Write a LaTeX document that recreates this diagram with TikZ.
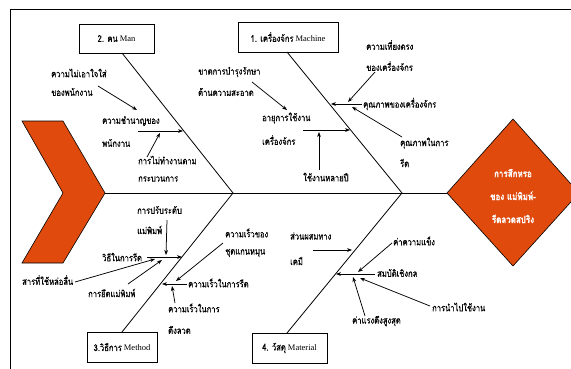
\documentclass[tikz,border=0pt]{standalone}
\usepackage{fontspec}
\setmainfont{Liberation Serif}
\newfontfamily\thai[Script=Thai, FakeStretch=0.8, FakeBold=0.6]{Loma}
\usetikzlibrary{arrows.meta}
\definecolor{fishorange}{RGB}{224,74,12}
\tikzset{
  lbl/.style={anchor=west, inner sep=0pt, font=\thai\fontsize{9.5}{11}\selectfont},
  arr/.style={-{Stealth[length=5pt,width=3.8pt]}, line width=0.75pt},
  bone/.style={line width=0.8pt},
  catbox/.style={draw, line width=0.8pt, inner sep=0pt, font=\fontsize{8.5}{9}\selectfont},
  headtxt/.style={inner sep=0pt, align=center, text=white, font=\thai\bfseries\fontsize{10}{23}\selectfont}
}
\begin{document}
\begin{tikzpicture}[x=1pt,y=-1pt]
\useasboundingbox (0,0) rectangle (571,368);
\fill[white] (0,0) rectangle (571,368);
% frame
\draw[line width=1pt] (10,400) -- (10,9) -- (600,9);
% chevron (tail)
\draw[fill=fishorange, line width=0.6pt] (22,121) -- (63,121) -- (105,193) -- (63,263) -- (22,263) -- (63,193) -- cycle;
\coordinate (tail) at (105,193);
% head diamond
\draw[fill=fishorange, line width=0.6pt] (447,193) -- (513,119) -- (579,193) -- (513,266) -- cycle;
\coordinate (headW) at (447,193);
\node[headtxt] (head) at (513,196) {การสึกหรอ\\ของ แม่พิมพ์-\\รีดลวดสปริง};
% spine
\draw[bone] (tail) -- (headW);
\coordinate (j1) at (233,193);
\coordinate (j2) at (402,193);
% category boxes
\node[catbox, minimum width=75pt, minimum height=29pt] (man) at (116.5,38.5) {{\thai\fontsize{9.5}{11}\selectfont 2. คน} Man};
\node[catbox, minimum width=100pt, minimum height=30pt] (mach) at (288,37) {{\thai\fontsize{9.5}{11}\selectfont 1. เครื่องจักร} Machine};
\node[catbox, minimum width=70pt, minimum height=30pt] (meth) at (122,347) {{\thai\fontsize{9.5}{11}\selectfont 3.วิธีการ} Method};
\node[catbox, minimum width=75pt, minimum height=30pt] (mat) at (289.5,348) {{\thai\fontsize{9.5}{11}\selectfont 4. วัสดุ} Material};
\coordinate (manB) at (122,53);
\coordinate (machB) at (287,52);
\coordinate (methB) at (122,332);
\coordinate (matB) at (287,333);
\draw[bone] (manB) -- (j1) -- (methB);
\draw[bone] (machB) -- (j2) -- (matB);

% ---------- Man ----------
\node[lbl] (t1a) at (51,73) {ความไม่เอาใจใส่};
\node[lbl] (t1b) at (51,92) {ของพนักงาน};
\node[lbl] (t2a) at (102,121) {ความชำนาญของ};
\node[lbl] (t2b) at (102,143) {พนักงาน};
\node[lbl] (t3a) at (138,160) {การไม่ทำงานตาม};
\node[lbl] (t3b) at (138,179) {กระบวนการ};
\coordinate (a1s) at (98,86);   \coordinate (a1e) at (137,110);
\coordinate (a2s) at (138,131); \coordinate (a2e) at (183,131);
\coordinate (a3s) at (147,157); \coordinate (a3e) at (160,133);
\draw[arr] (a1s) -- (a1e);
\draw[arr] (a2s) -- (a2e);
\draw[arr] (a3s) -- (a3e);

% ---------- Machine ----------
\node[lbl] (m1a) at (198,72) {ขาดการบำรุงรักษา};
\node[lbl] (m1b) at (198,92) {ด้านความสะอาด};
\node[lbl] (m2a) at (262,118) {อายุการใช้งาน};
\node[lbl] (m2b) at (262,140) {เครื่องจักร};
\node[lbl] (m3) at (303,177) {ใช้งานหลายปี};
\node[lbl] (m4a) at (366,45) {ความเที่ยงตรง};
\node[lbl] (m4b) at (366,66) {ของเครื่องจักร};
\node[lbl] (m5) at (363,104) {คุณภาพของเครื่องจักร};
\node[lbl] (m6a) at (400,143) {คุณภาพในการ};
\node[lbl] (m6b) at (400,163) {รีด};
\coordinate (b1s) at (252,82);  \coordinate (b1e) at (287,110);
\coordinate (b2s) at (303,130); \coordinate (b2e) at (350,130);
\coordinate (b3s) at (319,170); \coordinate (b3e) at (319,132);
\coordinate (b4s) at (375,72);  \coordinate (b4e) at (348,102);
\coordinate (b5s) at (362,104); \coordinate (b5e) at (331,104);
\coordinate (b6s) at (402,137); \coordinate (b6e) at (352,107);
\draw[arr] (b1s) -- (b1e);
\draw[arr] (b2s) -- (b2e);
\draw[arr] (b3s) -- (b3e);
\draw[arr] (b4s) -- (b4e);
\draw[arr] (b5s) -- (b5e);
\draw[arr] (b6s) -- (b6e);

% ---------- Method ----------
\node[lbl] (d1a) at (137,210) {การปรับระดับ};
\node[lbl] (d1b) at (137,230) {แม่พิมพ์};
\node[lbl] (d2) at (102,257) {วิธีในการรีด};
\node[lbl] (d3) at (22,280) {สารที่ใช้หล่อลื่น};
\node[lbl] (d4) at (88,293) {การยึดแม่พิมพ์};
\node[lbl] (d5a) at (225,233) {ความเร็วของ};
\node[lbl] (d5b) at (225,253) {ชุดแกนหมุน};
\node[lbl] (d6) at (188,283) {ความเร็วในการรีด};
\node[lbl] (d7a) at (168,308) {ความเร็วในการ};
\node[lbl] (d7b) at (168,330) {ดึงลวด};
\coordinate (c1s) at (167,220); \coordinate (c1e) at (166,255);
\coordinate (c2s) at (147,257); \coordinate (c2e) at (182,257);
\coordinate (c3s) at (75,282);  \coordinate (c3e) at (155,259);
\coordinate (c4s) at (128,284); \coordinate (c4e) at (162,260);
\coordinate (c5s) at (223,243); \coordinate (c5e) at (176,281);
\coordinate (c6s) at (187,284); \coordinate (c6e) at (162,284);
\coordinate (c7s) at (175,303); \coordinate (c7e) at (172,286);
\draw[arr] (c1s) -- (c1e);
\draw[arr] (c2s) -- (c2e);
\draw[arr] (c3s) -- (c3e);
\draw[arr] (c4s) -- (c4e);
\draw[arr] (c5s) -- (c5e);
\draw[arr] (c6s) -- (c6e);
\draw[arr] (c7s) -- (c7e);

% ---------- Material ----------
\node[lbl] (r1a) at (290,236) {ส่วนผสมทาง};
\node[lbl] (r1b) at (290,261) {เคมี};
\node[lbl] (r2) at (393,241) {ค่าความแข็ง};
\node[lbl] (r3) at (377,273) {สมบัติเชิงกล};
\node[lbl] (r4) at (432,307) {การนำไปใช้งาน};
\node[lbl] (r5) at (352,321) {ค่าแรงดึงสูงสุด};
\coordinate (e1s) at (313,250); \coordinate (e1e) at (352,250);
\coordinate (e2s) at (392,243); \coordinate (e2e) at (358,272);
\coordinate (e3s) at (375,274); \coordinate (e3e) at (336,274);
\coordinate (e4s) at (430,306); \coordinate (e4e) at (360,278);
\coordinate (e5s) at (365,316); \coordinate (e5e) at (353,277);
\draw[arr] (e1s) -- (e1e);
\draw[arr] (e2s) -- (e2e);
\draw[arr] (e3s) -- (e3e);
\draw[arr] (e4s) -- (e4e);
\draw[arr] (e5s) -- (e5e);
\end{tikzpicture}
\end{document}
